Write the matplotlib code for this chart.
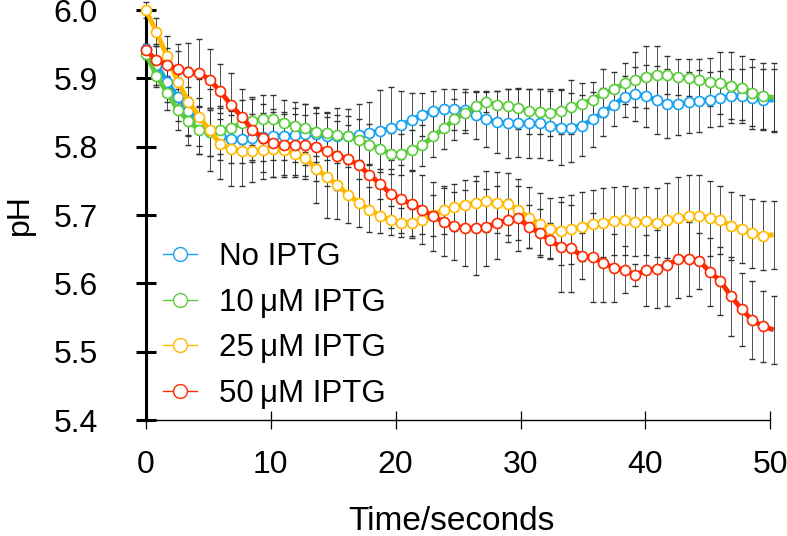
import matplotlib
matplotlib.use("Agg")
import matplotlib.pyplot as plt
from matplotlib.lines import Line2D

plt.rcParams['font.family'] = ['Liberation Sans', 'DejaVu Sans']

time_s = [0.00, 0.85, 1.70, 2.56, 3.41, 4.26, 5.11, 5.96, 6.82, 7.67,
          8.52, 9.37, 10.22, 11.08, 11.93, 12.78, 13.63, 14.48, 15.34, 16.19,
          17.04, 17.89, 18.74, 19.60, 20.45, 21.30, 22.15, 23.00, 23.86, 24.71,
          25.56, 26.41, 27.26, 28.12, 28.97, 29.82, 30.67, 31.52, 32.38, 33.23,
          34.08, 34.93, 35.78, 36.64, 37.49, 38.34, 39.19, 40.04, 40.90, 41.75,
          42.60, 43.45, 44.30, 45.16, 46.01, 46.86, 47.71, 48.56, 49.42, 50.27]

ph_none = [5.943, 5.920, 5.895, 5.872, 5.852, 5.836, 5.822, 5.815, 5.811, 5.811,
           5.813, 5.814, 5.816, 5.816, 5.817, 5.818, 5.818, 5.816, 5.816, 5.815,
           5.817, 5.820, 5.823, 5.827, 5.832, 5.839, 5.847, 5.852, 5.855, 5.855,
           5.854, 5.846, 5.840, 5.836, 5.834, 5.835, 5.834, 5.834, 5.831, 5.828,
           5.828, 5.831, 5.840, 5.851, 5.861, 5.873, 5.877, 5.874, 5.868, 5.863,
           5.862, 5.865, 5.867, 5.869, 5.871, 5.874, 5.874, 5.871, 5.869, 5.868]
err_none = [0.008, 0.030, 0.030, 0.035, 0.035, 0.035, 0.035, 0.035, 0.035, 0.035,
            0.035, 0.035, 0.035, 0.035, 0.040, 0.045, 0.040, 0.035, 0.040, 0.040,
            0.045, 0.045, 0.060, 0.060, 0.050, 0.040, 0.032, 0.030, 0.030, 0.030,
            0.030, 0.035, 0.040, 0.045, 0.050, 0.050, 0.050, 0.050, 0.050, 0.055,
            0.050, 0.045, 0.040, 0.035, 0.030, 0.030, 0.040, 0.045, 0.050, 0.050,
            0.045, 0.045, 0.045, 0.040, 0.040, 0.040, 0.040, 0.045, 0.045, 0.045]

ph_10 = [5.936, 5.904, 5.879, 5.854, 5.837, 5.825, 5.822, 5.824, 5.827, 5.834,
         5.838, 5.840, 5.840, 5.834, 5.831, 5.827, 5.822, 5.820, 5.817, 5.815,
         5.810, 5.803, 5.797, 5.790, 5.789, 5.795, 5.802, 5.815, 5.827, 5.840,
         5.850, 5.860, 5.866, 5.861, 5.859, 5.856, 5.852, 5.851, 5.850, 5.852,
         5.858, 5.863, 5.869, 5.878, 5.884, 5.893, 5.898, 5.902, 5.905, 5.905,
         5.902, 5.901, 5.897, 5.895, 5.893, 5.889, 5.886, 5.879, 5.874, 5.872]
err_10 = [0.008, 0.017, 0.025, 0.030, 0.035, 0.035, 0.035, 0.035, 0.035, 0.035,
          0.035, 0.035, 0.035, 0.035, 0.035, 0.035, 0.035, 0.030, 0.030, 0.030,
          0.030, 0.030, 0.030, 0.030, 0.030, 0.030, 0.030, 0.030, 0.030, 0.030,
          0.030, 0.020, 0.015, 0.020, 0.025, 0.030, 0.033, 0.033, 0.035, 0.033,
          0.040, 0.030, 0.025, 0.035, 0.025, 0.030, 0.040, 0.045, 0.042, 0.028,
          0.026, 0.027, 0.031, 0.035, 0.045, 0.049, 0.047, 0.049, 0.048, 0.050]

ph_25 = [6.000, 5.968, 5.932, 5.895, 5.866, 5.844, 5.824, 5.804, 5.797, 5.793,
         5.793, 5.795, 5.796, 5.795, 5.790, 5.783, 5.768, 5.756, 5.744, 5.730,
         5.718, 5.708, 5.699, 5.692, 5.689, 5.689, 5.692, 5.700, 5.707, 5.711,
         5.715, 5.717, 5.720, 5.718, 5.716, 5.708, 5.696, 5.687, 5.680, 5.677,
         5.679, 5.683, 5.687, 5.689, 5.691, 5.692, 5.690, 5.691, 5.689, 5.692,
         5.695, 5.698, 5.699, 5.695, 5.693, 5.684, 5.680, 5.673, 5.670, 5.671]
err_25 = [0.012, 0.020, 0.030, 0.045, 0.050, 0.055, 0.060, 0.052, 0.055, 0.051,
          0.045, 0.042, 0.040, 0.040, 0.035, 0.031, 0.050, 0.060, 0.050, 0.041,
          0.035, 0.033, 0.025, 0.021, 0.021, 0.020, 0.020, 0.030, 0.035, 0.035,
          0.036, 0.040, 0.045, 0.045, 0.045, 0.045, 0.045, 0.045, 0.045, 0.050,
          0.050, 0.050, 0.050, 0.050, 0.050, 0.050, 0.050, 0.050, 0.050, 0.055,
          0.060, 0.060, 0.060, 0.055, 0.050, 0.050, 0.050, 0.050, 0.050, 0.050]

ph_50 = [5.941, 5.927, 5.920, 5.913, 5.909, 5.908, 5.898, 5.881, 5.861, 5.844,
         5.825, 5.813, 5.805, 5.803, 5.803, 5.802, 5.800, 5.793, 5.787, 5.782,
         5.773, 5.759, 5.746, 5.731, 5.723, 5.716, 5.708, 5.698, 5.690, 5.684,
         5.681, 5.681, 5.682, 5.689, 5.692, 5.695, 5.683, 5.674, 5.663, 5.653,
         5.651, 5.640, 5.638, 5.630, 5.622, 5.620, 5.612, 5.619, 5.621, 5.627,
         5.635, 5.636, 5.633, 5.617, 5.603, 5.581, 5.562, 5.546, 5.537, 5.532]
err_50 = [0.010, 0.020, 0.025, 0.038, 0.043, 0.050, 0.045, 0.040, 0.047, 0.040,
          0.045, 0.050, 0.050, 0.045, 0.045, 0.045, 0.050, 0.050, 0.050, 0.050,
          0.050, 0.050, 0.050, 0.050, 0.050, 0.050, 0.050, 0.050, 0.050, 0.050,
          0.055, 0.069, 0.056, 0.053, 0.032, 0.048, 0.031, 0.035, 0.026, 0.066,
          0.064, 0.034, 0.065, 0.057, 0.050, 0.034, 0.016, 0.052, 0.057, 0.060,
          0.057, 0.054, 0.041, 0.050, 0.050, 0.058, 0.053, 0.057, 0.052, 0.050]

labels = ["No IPTG", "10\u2009\u03bcM IPTG", "25\u2009\u03bcM IPTG", "50\u2009\u03bcM IPTG"]
colors = ["#18a2f0", "#5ccc3c", "#ffb900", "#ff2a00"]
series = [ph_none, ph_10, ph_25, ph_50]
errors = [err_none, err_10, err_25, err_50]

x_ticks = [0, 10, 20, 30, 40, 50]
y_ticks = [5.4, 5.5, 5.6, 5.7, 5.8, 5.9, 6.0]

fig = plt.figure(figsize=(7.87, 5.36), dpi=100)
ax = fig.add_axes([0.1853, 0.2164, 0.7935, 0.7649])
ax.set_xlim(0, 50)
ax.set_ylim(5.4, 6.0)

for y, e in zip(series, errors):
    ax.errorbar(time_s, y, yerr=e, fmt='none', ecolor='#333333', elinewidth=0.6,
                capsize=2.2, capthick=1.0, zorder=1, clip_on=False)

order = [1, 2, 0, 3]
for k in order:
    ax.plot(time_s, series[k], color=colors[k], lw=3.5, marker='o', ms=7.2,
            mfc='white', mec=colors[k], mew=1.2, markevery=list(range(59)),
            zorder=3 + k, clip_on=False, solid_capstyle='butt')

ax.spines['top'].set_visible(False)
ax.spines['right'].set_visible(False)
ax.spines['left'].set_linewidth(2.2)
ax.spines['bottom'].set_linewidth(1.0)

ax.set_xticks(x_ticks)
ax.set_xticklabels([str(v) for v in x_ticks])
ax.set_yticks(y_ticks)
ax.set_yticklabels([f"{v:.1f}" for v in y_ticks])
ax.tick_params(axis='y', direction='inout', length=15, width=2.2, labelsize=23, pad=27)
ax.tick_params(axis='x', direction='inout', length=13, width=0.9, labelsize=23, pad=15)

ax.set_ylabel("pH", fontsize=23)
ax.yaxis.set_label_coords(-0.178, 0.5)
ax.set_xlabel("Time/seconds", fontsize=24)
ax.xaxis.set_label_coords(0.49, -0.21)

handles = [Line2D([], [], color=c, lw=1.0, marker='o', ms=10, mfc='white', mec=c, mew=1.0)
           for c in colors]
leg = ax.legend(handles, labels, loc='upper left', bbox_to_anchor=(163 / 787, 1 - 242 / 536),
                bbox_transform=fig.transFigure, frameon=False, fontsize=22.5,
                handlelength=1.1, handletextpad=0.7, labelspacing=0.5, borderpad=0,
                borderaxespad=0)

fig.savefig("out.png", dpi=100)
